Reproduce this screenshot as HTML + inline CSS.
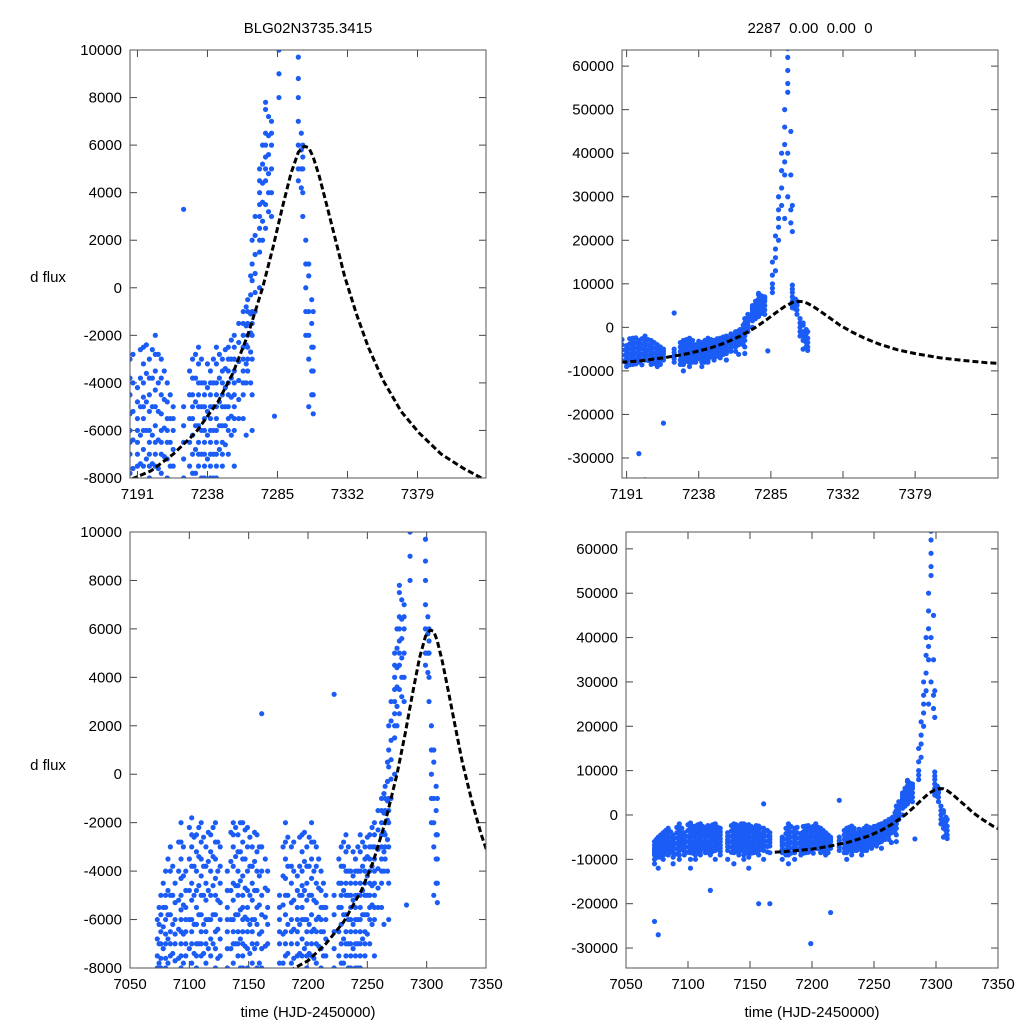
<!DOCTYPE html>
<html><head><meta charset="utf-8">
<style>
html,body{margin:0;padding:0;background:#fff;overflow:hidden;width:1024px;height:1024px;}
svg{display:block;}
svg text{font-family:"Liberation Sans",sans-serif;font-size:15px;fill:#000;}
</style></head>
<body>
<svg id="chart" width="1024" height="1024" viewBox="0 0 1024 1024" xmlns="http://www.w3.org/2000/svg">
<rect width="1024" height="1024" fill="#fff"/>
</svg>
<script>
// observation columns: time (HJD-2450000) and flux values in thousands
const obsTimes = [7073,7074.5,7076,7078,7080,7082,7084,7086,7088,7091,7093,7095,7097,7100,7102,7104,7106,7108,7110,7112,7114,7116,7118,7120,7122,7124,7126,7132,7135,7137,7139,7141,7143,7145,7147,7149,7151,7153,7155,7157,7159,7161,7164,7166,7176,7179,7181,7183,7186,7188,7191,7193,7195,7197,7199,7201,7203,7205,7207,7209,7211,7213,7215,7222,7226,7228,7230,7232,7234,7236,7238,7240,7242,7244,7246,7248,7250,7252,7254,7256,7259,7262,7264,7265,7267,7268,7270,7273,7275,7277,7279,7281,7283,7286,7288,7290,7292,7294,7296,7298,7299,7301,7302,7304,7306,7308,7309];
const obsFluxK = [
[-6,-6.8,-7.5,-8,-8.5,-9,-10,-11,-24],
[-5.5,-6.2,-7,-7.8,-8.6,-9.4],
[-5,-5.8,-6.5,-7,-7.6,-8,-9,-9.5,-12,-27],
[-4.5,-5.5,-6.3,-7.2,-8.2,-9.5],
[-4,-5,-5.5,-6,-6.6,-7,-7.6,-8,-9,-10],
[-3.5,-4.8,-5.8,-6.8,-7.8,-8.8],
[-3,-4,-5,-5.8,-6.5,-7,-7.5,-8.2,-9],
[-3.8,-5,-6.2,-7.4,-8.4],
[-4.5,-5.3,-6,-6.6,-7,-7.7,-8.5,-9.5,-11],
[-2.8,-4,-5.2,-6.4,-7.6,-8.8],
[-2,-2.8,-3.5,-4.3,-5,-5.6,-6,-6.5,-7,-7.5,-8,-9,-10],
[-3,-4.2,-5.4,-6.6,-7.8],
[-4,-4.8,-5.5,-6,-6.5,-7,-7.5,-8.2,-9],
[-2.2,-3.5,-4.8,-6,-7.2,-8.4],
[-1.8,-2.5,-3,-3.8,-4.5,-5.2,-6,-6.5,-7,-7.8,-8.5,-10,-12],
[-2.6,-3.8,-5,-6.2,-7.4,-8.6],
[-2.5,-3.2,-4,-4.8,-5.5,-6.2,-7,-7.5,-8,-9,-10],
[-2.2,-3.4,-4.6,-5.8,-7,-8.2],
[-2,-2.8,-3.5,-4.2,-5,-5.8,-6.5,-7,-7.5,-8.2,-9],
[-2.6,-3.8,-5,-6.2,-7.4],
[-3,-3.8,-4.5,-5.2,-6,-6.5,-7,-7.8,-8.5],
[-2.4,-3.6,-4.8,-6,-7.2,-8.4],
[-2.5,-3.2,-4,-5,-6,-6.8,-7.5,-8.2,-9,-17],
[-2.2,-3.4,-4.6,-5.8,-7,-8.2],
[-2,-2.8,-3.5,-4.3,-5,-5.8,-6.5,-7.2,-8,-10],
[-2.8,-4,-5.2,-6.4,-7.6],
[-3,-3.8,-4.5,-5.3,-6,-6.8,-7.5,-8.2,-9],
[-4,-4.8,-5.5,-6,-6.5,-7.2,-8,-10],
[-2.4,-3.6,-4.8,-6,-7.2,-8.4],
[-2,-2.5,-3,-3.8,-4.5,-5.2,-6,-6.5,-7,-7.8,-8.5,-11],
[-2.2,-3.4,-4.6,-5.8,-7,-8.2],
[-2.5,-3.2,-4,-4.6,-5,-5.8,-6.5,-7,-7.5,-8.2,-9],
[-2,-3.2,-4.4,-5.6,-6.8,-8],
[-2,-2.8,-3.5,-4.2,-5,-5.5,-6,-6.5,-7,-7.5,-8,-9,-10],
[-2.3,-3.5,-4.7,-5.9,-7.1,-8.3],
[-2.2,-3,-4,-4.8,-5.5,-6,-6.5,-7.2,-8,-8.8,-9.5,-12],
[-2.6,-3.8,-5,-6.2,-7.4,-8.6],
[-3,-3.8,-4.5,-5.2,-6,-6.5,-7,-7.8,-8.5],
[-2.4,-3.6,-4.8,-6,-7.2,-8.4],
[-2.5,-3.2,-4,-4.8,-5.5,-6.2,-7,-8,-9,-20],
[-3,-4.2,-5.4,-6.6,-7.8],
[2.5,-3,-4,-5,-5.8,-6.5,-7.2,-8,-10],
[-3.5,-4.7,-5.9,-7.1,-8.3],
[-4,-4.8,-5.5,-6.2,-7,-8.5,-20],
[-5,-5.5,-6,-6.5,-7,-7.8,-8.5,-10],
[-3,-4.2,-5.4,-6.6,-7.8,-9],
[-2,-2.8,-3.5,-4.3,-5,-5.8,-6.5,-7,-7.5,-8.2,-9,-11],
[-2.6,-3.8,-5,-6.2,-7.4,-8.6],
[-3,-3.8,-4.5,-5.3,-6,-6.5,-7,-7.8,-8.5,-10],
[-2.8,-4,-5.2,-6.4,-7.6],
[-4.2,-4.8,-5.5,-6,-6.5,-7,-7.5,-8.2,-9],
[-2.6,-3.8,-5,-6.2,-7.4,-8.6],
[-2.5,-3.2,-4,-4.6,-5,-5.5,-6,-6.8,-7.5,-8.5],
[-2.4,-3.6,-4.8,-6,-7.2,-8.4],
[-3,-3.8,-4.5,-5.2,-6,-6.5,-7,-7.5,-8,-29],
[-2.6,-3.8,-5,-6.2,-7.4,-8.6],
[-2,-2.8,-3.5,-4.3,-5,-5.8,-6.5,-7,-7.5,-35],
[-2.8,-4,-5.2,-6.4,-7.6],
[-3,-3.8,-4.5,-5.3,-6,-6.5,-7,-7.8,-8.5],
[-3.5,-4.7,-5.9,-7.1,-8.3],
[-4,-4.8,-5.5,-6,-6.5,-7.2,-8,-9],
[-4.5,-5.5,-6.5,-7.5,-8.5],
[-5,-5.5,-6,-6.8,-7.5,-22],
[3.3,-5,-5.8,-6.5,-7.2,-8],
[-3.5,-4.5,-5.5,-6.5,-7.5,-8.5],
[-3,-3.8,-4.5,-5,-5.5,-6.2,-7,-7.8,-8.5,-10],
[-2.8,-3.8,-4.8,-5.8,-6.8,-7.8],
[-2.5,-3.2,-4,-4.5,-5,-5.8,-6.5,-7,-7.5,-8.2,-9],
[-3,-4,-5,-6,-7,-8],
[-4,-4.5,-5,-5.5,-6,-6.5,-7,-7.5,-8],
[-3.2,-4.2,-5.2,-6.2,-7.2],
[-3.5,-4,-4.5,-5,-5.5,-6,-6.5,-7,-7.5,-8,-9],
[-3,-4,-5,-6,-7,-8],
[-2.5,-3.2,-4,-4.5,-5,-5.5,-6,-6.5,-7,-7.5,-8],
[-2.8,-3.8,-4.8,-5.8,-6.8],
[-3,-3.5,-4,-4.5,-5,-5.8,-6.5,-7,-7.5],
[-2.6,-3.4,-4.2,-5,-5.8,-6.6],
[-2.5,-3,-3.5,-4,-4.5,-5,-5.5,-6,-7],
[-2.2,-3,-3.8,-4.6,-5.4,-6.2],
[-2,-2.5,-3,-3.5,-4,-4.5,-5,-5.5,-6,-7.5],
[-1.5,-2.3,-3.1,-3.9,-4.7,-5.5],
[-1,-1.5,-2,-2.5,-3,-3.5,-4,-4.5,-5.5],
[-0.8,-1.6,-2.4,-3.2,-4,-6.2],
[-0.5,-1,-1.5,-2,-2.5,-3,-3.5],
[0.5,-0.3,-1.1,-1.9,-2.7,-4],
[2,1,0.3,-1,-1.5,-2,-3,-4.5,-6],
[3,2.2,1.4,0.6,-0.2,-1],
[5,4.5,4,3.5,3,2.5,2,1.5,0],
[6,5.2,4.4,3.6,2.8,2],
[7.8,7.5,6.5,6,5.5,5,4.5,3.5,2.5],
[7.2,6.4,5.6,4.8,4,3.2],
[7,6.5,6,5,4,3],
[-5.4],
[8,9,10,12,15],
[13,16,18,21],
[20,23,25,27,30],
[28,32,36,40],
[35,38,42,46,50,25],
[54,56,59,62,64,40,30],
[45,35,27,24],
[6,7,8,8.8,9.7,5,4.5,22,28],
[6.5,5.8,5,4.2],
[6,5.5,5,4,3],
[2,1,0,-1,-2],
[1,0.5,-1,-2,-3,-5],
[-0.5,-1.5,-2.5,-3.5,-4.5],
[-1,-2.5,-3.5,-4.5,-5.3]
];
// model curve samples
const modelT = [7170,7185,7200,7215,7230,7245,7255,7265,7275,7282,7288,7294,7299,7303,7306,7309,7313,7318,7324,7330,7338,7346,7356,7368,7380,7395,7410,7425,7440];
const modelF = [-8400,-8100,-7700,-7000,-6100,-4800,-3600,-2000,0,1700,3300,4800,5700,5950,5900,5500,4700,3500,2000,500,-1100,-2500,-3900,-5200,-6100,-7000,-7600,-8100,-8400];
// panel axes
const ticks1 = [7191,7238,7285,7332,7379];
const ticks3 = [7050,7100,7150,7200,7250,7300,7350];
const yTicksA = [-8000,-6000,-4000,-2000,0,2000,4000,6000,8000,10000];
const yTicksB = [-30000,-20000,-10000,0,10000,20000,30000,40000,50000,60000];

const svg = document.getElementById('chart');
const NS = 'http://www.w3.org/2000/svg';
function mk(tag, attrs, parent){const e=document.createElementNS(NS,tag);for(const k in attrs)e.setAttribute(k,attrs[k]);(parent||svg).appendChild(e);return e;}

const panels = [
 {id:'top-left',x0:130,x1:486,y0:50,y1:478,xd:[7186,7425],yd:[-8000,10000],xt:ticks1,yt:yTicksA,xlab:false},
 {id:'top-right',x0:622,x1:998,y0:50,y1:478,xd:[7188,7433],yd:[-34600,63700],xt:ticks1,yt:yTicksB,xlab:false},
 {id:'bottom-left',x0:130,x1:486,y0:532,y1:968,xd:[7050,7350],yd:[-8000,10000],xt:ticks3,yt:yTicksA,xlab:true},
 {id:'bottom-right',x0:626,x1:998,y0:532,y1:968,xd:[7050,7350],yd:[-34500,63800],xt:ticks3,yt:yTicksB,xlab:true}
];

panels.forEach((p,pi)=>{
  const sx=t=>p.x0+(t-p.xd[0])/(p.xd[1]-p.xd[0])*(p.x1-p.x0);
  const sy=v=>p.y1-(v-p.yd[0])/(p.yd[1]-p.yd[0])*(p.y1-p.y0);
  const g=mk('g',{});
  
  
  const cp=mk('clipPath',{id:'clip'+pi},g);
  mk('rect',{x:p.x0,y:p.y0,width:p.x1-p.x0,height:p.y1-p.y0},cp);
  p.xt.forEach(t=>{
    const x=sx(t);
    mk('line',{x1:x,x2:x,y1:p.y1,y2:p.y1-7,stroke:'#444'},g);
    mk('line',{x1:x,x2:x,y1:p.y0,y2:p.y0+7,stroke:'#444'},g);
    const tx=mk('text',{x:x,y:p.y1+21,'text-anchor':'middle'},g);
    tx.textContent=t;
    
    
  });
  p.yt.forEach(v=>{
    const y=sy(v);
    mk('line',{x1:p.x0,x2:p.x0+7,y1:y,y2:y,stroke:'#444'},g);
    mk('line',{x1:p.x1,x2:p.x1-7,y1:y,y2:y,stroke:'#444'},g);
    const ty=mk('text',{x:p.x0-8,y:y+5,'text-anchor':'end'},g);
    ty.textContent=v;
    
    
  });
  const pg=mk('g',{'clip-path':'url(#clip'+pi+')'},g);
  obsTimes.forEach((t,i)=>{
    obsFluxK[i].forEach(fk=>{
      const c=mk('circle',{cx:sx(t),cy:sy(fk*1000),r:2.6,fill:'#1a5cf5'},pg);
      
      
    });
  });
  const d=modelT.map((t,i)=>(i?'L':'M')+sx(t).toFixed(1)+','+sy(modelF[i]).toFixed(1)).join('');
  const m=mk('path',{d:d,fill:'none',stroke:'#000','stroke-width':3,'stroke-dasharray':'6,3','stroke-linejoin':'round'},pg);
  
  
  const fr=mk('rect',{x:p.x0,y:p.y0,width:p.x1-p.x0,height:p.y1-p.y0,fill:'none',stroke:'#555','stroke-width':1},g);
  
  
  if(p.xlab){
    const xl=mk('text',{x:(p.x0+p.x1)/2,y:1017,'text-anchor':'middle'},g);
    xl.textContent='time (HJD-2450000)';
    
    
  }
});
const yl1=mk('text',{x:48,y:282,'text-anchor':'middle'});
yl1.textContent='d flux';


const yl2=mk('text',{x:48,y:770,'text-anchor':'middle'});
yl2.textContent='d flux';


const t1=mk('text',{x:308,y:33,'text-anchor':'middle'});
t1.textContent='BLG02N3735.3415';


const t2=mk('text',{x:810,y:33,'text-anchor':'middle',style:'white-space:pre'});
t2.textContent='2287  0.00  0.00  0';


</script>
</body></html>
